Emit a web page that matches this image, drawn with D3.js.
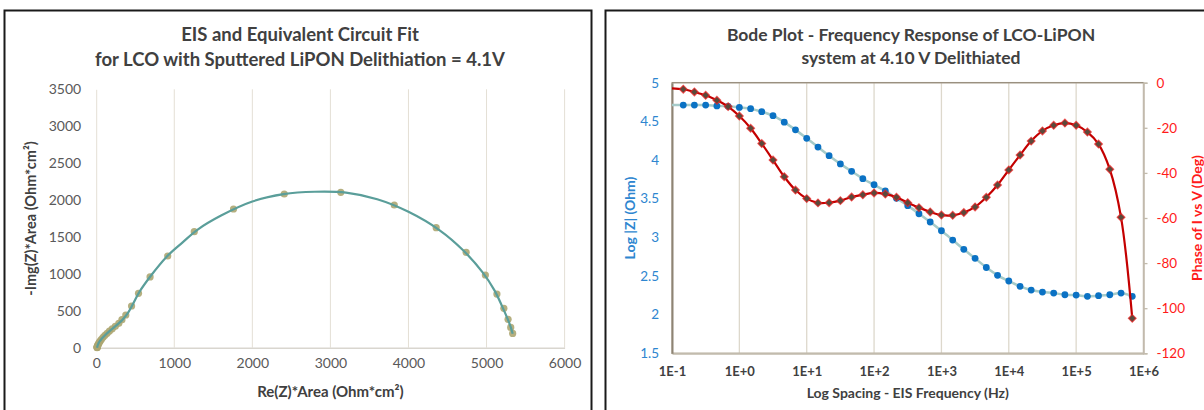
<!DOCTYPE html>
<html>
<head>
<meta charset="utf-8">
<script src="https://cdn.jsdelivr.net/npm/d3@7"></script>
<style>
    body { margin: 0; background: #fff; }
    svg { display: block; font-family: Lato, "Open Sans", sans-serif; }
</style>
</head>
<body>
<div id="chart"></div>
<script>
// Nyquist data points (Re, -Im) in Ohm*cm2
var nyqRe = [5335, 5310, 5276, 5222, 5133, 4985, 4739, 4355, 3818, 3133, 2409, 1759, 1256, 916, 690, 542, 453, 379,
    330, 290, 245, 205, 170, 140, 112, 88, 68, 52, 40, 31, 24, 19, 16, 14, 13, 12, 12, 11];
var nyqIm = [194, 275, 384, 533, 727, 985, 1292, 1626, 1933, 2105, 2082, 1879, 1572, 1242, 958, 736, 565, 443,
    380, 330, 290, 255, 225, 195, 168, 140, 114, 92, 72, 55, 41, 30, 21, 14, 9, 6, 4, 2];
// equivalent circuit fit curve
var fitRe = [11, 20, 40, 70, 110, 170, 250, 330, 400, 470, 550, 700, 900, 1100, 1300, 1600, 2000, 2400, 2800,
    3200, 3600, 4000, 4400, 4700, 4950, 5100, 5200, 5270, 5310, 5335];
var fitIm = [0, 35, 80, 120, 165, 225, 295, 370, 460, 590, 750, 975, 1230, 1420, 1600, 1790, 1980, 2080, 2112,
    2100, 2010, 1840, 1590, 1320, 1020, 780, 560, 390, 280, 190];
var nyqXTicks = [0, 1000, 2000, 3000, 4000, 5000, 6000];
var nyqYTicks = [0, 500, 1000, 1500, 2000, 2500, 3000, 3500];

// Bode data (first entry is the line start at 0.1 Hz, no marker)
var bodeFreq = [0.1, 0.147, 0.215, 0.316, 0.464, 0.681, 1, 1.47, 2.15, 3.16, 4.64, 6.81, 10, 14.7, 21.5, 31.6,
    46.4, 68.1, 100, 147, 215, 316, 464, 681, 1000, 1470, 2150, 3160, 4640, 6810, 10000, 14700, 21500, 31600,
    46400, 68100, 100000, 147000, 215000, 316000, 464000, 681000];
var logZ = [4.71, 4.711, 4.711, 4.711, 4.70, 4.695, 4.68, 4.664, 4.625, 4.573, 4.49, 4.39, 4.28, 4.168, 4.056,
    3.95, 3.854, 3.758, 3.68, 3.60, 3.504, 3.41, 3.305, 3.198, 3.085, 2.965, 2.845, 2.728, 2.61, 2.508, 2.435,
    2.366, 2.318, 2.292, 2.279, 2.257, 2.253, 2.237, 2.245, 2.257, 2.279, 2.237];
var phase = [-2.5, -2.9, -4.1, -5.6, -7.8, -10.6, -14.8, -20.2, -27.0, -34.3, -41.7, -47.6, -51.4, -53.3, -53.2,
    -52.3, -50.7, -49.7, -48.9, -49.4, -50.8, -53.2, -55.4, -57.3, -58.7, -58.8, -57.6, -55.1, -50.8, -45.4,
    -38.7, -32.1, -25.9, -21.4, -18.9, -17.9, -18.9, -21.9, -27.2, -38.4, -59.7, -104.5];
var bodeXTicks = [1e-1, 1e0, 1e1, 1e2, 1e3, 1e4, 1e5, 1e6];
var logZTicks = [1.5, 2, 2.5, 3, 3.5, 4, 4.5, 5];
var phaseTicks = [-120, -100, -80, -60, -40, -20, 0];

var W = 1204, H = 410;
var svg = d3.select("#chart").append("svg")
    .attr("width", W)
    .attr("height", H);
svg.append("rect").attr("width", W).attr("height", H).attr("fill", "#fff");

// panel frames
svg.append("rect")
    .attr("x", 4.5).attr("y", 10.5).attr("width", 587).attr("height", 420)
    .attr("fill", "none").attr("stroke", "#1a1a1a").attr("stroke-width", 2);
svg.append("rect")
    .attr("x", 605.5).attr("y", 10.5).attr("width", 620).attr("height", 420)
    .attr("fill", "none").attr("stroke", "#1a1a1a").attr("stroke-width", 2);

function title(lines, cx, ys, size) {
    lines.forEach(function (t, i) {
        svg.append("text")
            .attr("x", cx).attr("y", ys[i])
            .attr("text-anchor", "middle")
            .attr("font-size", size)
            .attr("font-weight", "bold")
            .attr("fill", "#404040")
            .text(t);
    });
}

// ---------- Nyquist ----------
var nq = { left: 96.2, right: 564.6, top: 89.3, bottom: 347.7 };
var nx = d3.scaleLinear().domain([0, 6000]).range([nq.left, nq.right]);
var ny = d3.scaleLinear().domain([0, 3500]).range([nq.bottom, nq.top]);

title(["EIS and Equivalent Circuit Fit", "for LCO with Sputtered LiPON Delithiation = 4.1V"], 300, [40.5, 66], "18.5px");

var nGrid = svg.append("g");
nGrid.selectAll("line").data(nyqXTicks.slice(1)).enter().append("line")
    .attr("x1", d => nx(d)).attr("x2", d => nx(d))
    .attr("y1", nq.top).attr("y2", nq.bottom)
    .attr("stroke", "#E4DFD5").attr("stroke-width", 1);

var nxAxis = svg.append("g")
    .attr("transform", "translate(0," + nq.bottom + ")")
    .call(d3.axisBottom(nx).tickValues(nyqXTicks).tickSize(0).tickPadding(10).tickFormat(d3.format("d")));
nxAxis.select(".domain").attr("stroke", "#D9D6CF").attr("stroke-width", 1.5);
var nyAxis = svg.append("g")
    .attr("transform", "translate(" + nq.left + ",0)")
    .call(d3.axisLeft(ny).tickValues(nyqYTicks).tickSize(0).tickPadding(15).tickFormat(d3.format("d")));
nyAxis.select(".domain").attr("stroke", "#E4DFD5");
[nxAxis, nyAxis].forEach(a => a.attr("font-family", null).attr("font-size", null));
svg.selectAll(".tick text").attr("font-size", "14px").attr("fill", "#595959");

svg.append("text")
    .attr("x", (nq.left + nq.right) / 2).attr("y", 397)
    .attr("text-anchor", "middle").attr("font-size", "15px").attr("font-weight", "bold").attr("fill", "#404040")
    .text("Re(Z)*Area (Ohm*cm²)");
svg.append("text")
    .attr("transform", "translate(36," + ((nq.top + nq.bottom) / 2) + ") rotate(-90)")
    .attr("text-anchor", "middle").attr("font-size", "14.5px").attr("font-weight", "bold").attr("fill", "#404040")
    .text("-Img(Z)*Area (Ohm*cm²)");

var nyqPts = nyqRe.map((r, i) => [r, nyqIm[i]]);
svg.append("g").selectAll("circle").data(nyqPts).enter().append("circle")
    .attr("cx", d => nx(d[0])).attr("cy", d => ny(d[1]))
    .attr("r", 3.6)
    .attr("fill", "#ADA671").attr("fill-opacity", 0.9);
var fitPts = fitRe.map((r, i) => [r, fitIm[i]]);
svg.append("path")
    .datum(fitPts)
    .attr("d", d3.line().x(d => nx(d[0])).y(d => ny(d[1])).curve(d3.curveCatmullRom))
    .attr("fill", "none").attr("stroke", "#5A9E9A").attr("stroke-width", 2.2);

// ---------- Bode ----------
var bd = { left: 672, right: 1143.5, top: 82.7, bottom: 353.3 };
var bx = d3.scaleLog().domain([1e-1, 1e6]).range([bd.left, bd.right]);
var byL = d3.scaleLinear().domain([1.5, 5]).range([bd.bottom, bd.top]);
var byR = d3.scaleLinear().domain([-120, 0]).range([bd.bottom, bd.top]);

title(["Bode Plot - Frequency Response of LCO-LiPON", "system at 4.10 V Delithiated"], 911, [40.5, 64], "17.5px");

svg.append("g").selectAll("line").data(bodeXTicks.slice(1, -1)).enter().append("line")
    .attr("x1", d => bx(d)).attr("x2", d => bx(d))
    .attr("y1", bd.top).attr("y2", bd.bottom)
    .attr("stroke", "#DDD8CC").attr("stroke-width", 1.3);

svg.append("rect")
    .attr("x", bd.left).attr("y", bd.top)
    .attr("width", bd.right - bd.left).attr("height", bd.bottom - bd.top)
    .attr("fill", "none").attr("stroke", "#C2BBAD").attr("stroke-width", 1.5);
svg.append("line")
    .attr("x1", bd.left).attr("x2", bd.right).attr("y1", bd.top).attr("y2", bd.top)
    .attr("stroke", "#9A9080").attr("stroke-width", 1.3);

var fmtE = d => { var e = Math.round(Math.log10(d)); return "1E" + (e < 0 ? "-" : "+") + Math.abs(e); };
var bxAxis = svg.append("g")
    .attr("transform", "translate(0," + bd.bottom + ")")
    .call(d3.axisBottom(bx).tickValues(bodeXTicks).tickSize(0).tickPadding(13).tickFormat(fmtE));
bxAxis.select(".domain").attr("stroke", "#C2BBAD").attr("stroke-width", 2);
bxAxis.selectAll("text").attr("font-size", "13px").attr("font-weight", "bold").attr("fill", "#404040");

var blAxis = svg.append("g")
    .attr("transform", "translate(" + bd.left + ",0)")
    .call(d3.axisLeft(byL).tickValues(logZTicks).tickSize(0).tickPadding(13).tickFormat(d3.format("")));
blAxis.select(".domain").attr("stroke", "#8E8474").attr("stroke-width", 2);
blAxis.selectAll("text").attr("font-size", "13.5px").attr("fill", "#2E86D0");

var brAxis = svg.append("g")
    .attr("transform", "translate(" + bd.right + ",0)")
    .call(d3.axisRight(byR).tickValues(phaseTicks).tickSize(4).tickPadding(9));
brAxis.select(".domain").attr("stroke", "#C2BBAD").attr("stroke-width", 1.5);
brAxis.selectAll(".tick line").attr("stroke", "#C2BBAD").attr("stroke-width", 1.3);
brAxis.selectAll("text").attr("font-size", "13.5px").attr("fill", "#FF1A1A")
    .text(d => d === 0 ? "0" : "-" + Math.abs(d));
[bxAxis, blAxis, brAxis].forEach(a => a.attr("font-family", null).attr("font-size", null));

svg.append("text")
    .attr("x", (bd.left + bd.right) / 2).attr("y", 398)
    .attr("text-anchor", "middle").attr("font-size", "14px").attr("font-weight", "bold").attr("fill", "#404040")
    .text("Log Spacing - EIS Frequency (Hz)");
svg.append("text")
    .attr("transform", "translate(635," + ((bd.top + bd.bottom) / 2) + ") rotate(-90)")
    .attr("text-anchor", "middle").attr("font-size", "14px").attr("font-weight", "bold").attr("fill", "#2E86D0")
    .text("Log |Z| (Ohm)");
svg.append("text")
    .attr("transform", "translate(1202," + ((bd.top + bd.bottom) / 2) + ") rotate(-90)")
    .attr("text-anchor", "middle").attr("font-size", "14px").attr("font-weight", "bold").attr("fill", "#FF1A1A")
    .text("Phase of I vs V (Deg)");

var zPts = bodeFreq.map((f, i) => [f, logZ[i]]);
var pPts = bodeFreq.map((f, i) => [f, phase[i]]);

svg.append("path")
    .datum(zPts)
    .attr("d", d3.line().x(d => bx(d[0])).y(d => byL(d[1])).curve(d3.curveCatmullRom))
    .attr("fill", "none").attr("stroke", "#A6CBC9").attr("stroke-width", 2.5);
svg.append("g").selectAll("circle").data(zPts.slice(1)).enter().append("circle")
    .attr("cx", d => bx(d[0])).attr("cy", d => byL(d[1]))
    .attr("r", 3.4)
    .attr("fill", "#0B72C4");

svg.append("path")
    .datum(pPts)
    .attr("d", d3.line().x(d => bx(d[0])).y(d => byR(d[1])).curve(d3.curveCatmullRom))
    .attr("fill", "none").attr("stroke", "#C40000").attr("stroke-width", 2.2);
svg.append("g").selectAll("path").data(pPts.slice(1)).enter().append("path")
    .attr("d", d3.symbol().type(d3.symbolSquare).size(30))
    .attr("transform", d => "translate(" + bx(d[0]) + "," + byR(d[1]) + ") rotate(45)")
    .attr("fill", "#5A4A3C")
    .attr("stroke", "#F02020").attr("stroke-opacity", 0.7).attr("stroke-width", 1.2);
</script>
</body>
</html>
